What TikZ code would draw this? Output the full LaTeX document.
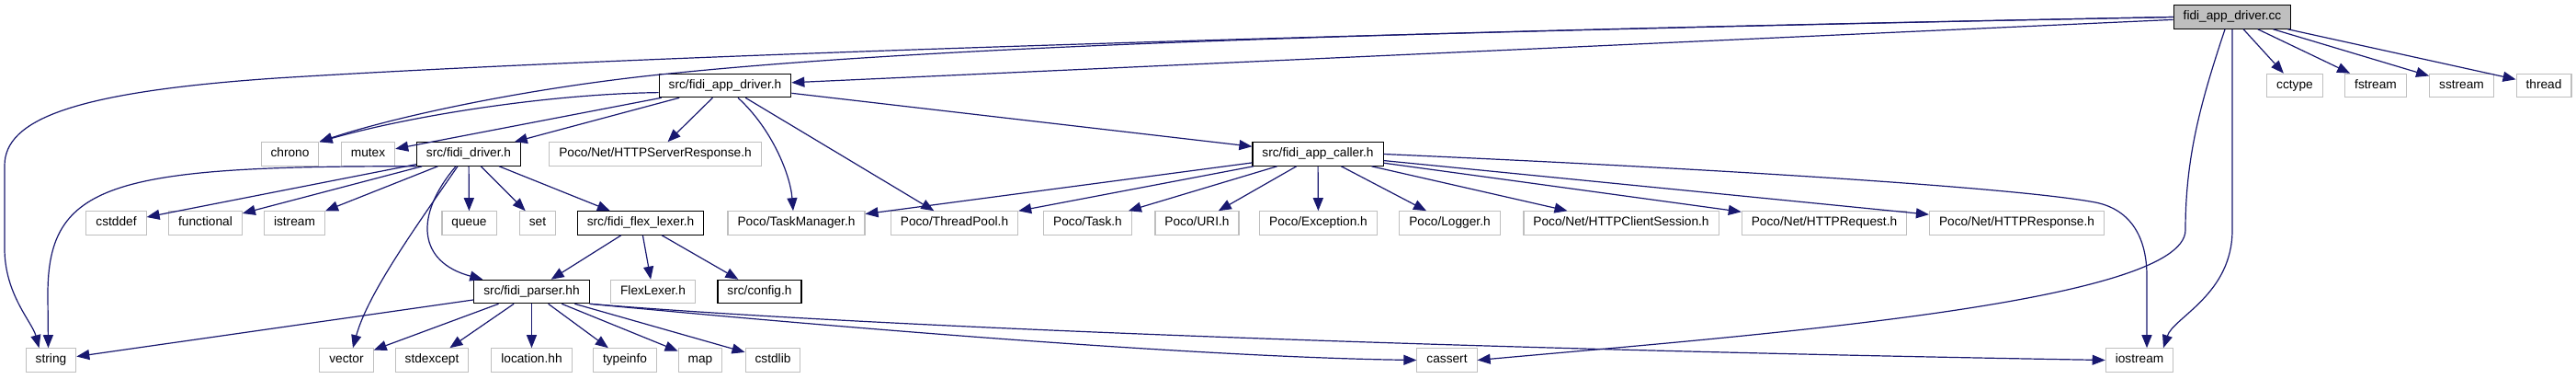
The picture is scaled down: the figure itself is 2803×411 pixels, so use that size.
\documentclass[tikz,border=0pt]{standalone}
\usepackage{fontspec}
\setmainfont{Liberation Sans}
\usetikzlibrary{arrows.meta,calc}
\definecolor{Edge}{HTML}{191970}
\definecolor{Frame}{HTML}{BFBFBF}
\definecolor{RootFill}{HTML}{BFBFBF}

\tikzset{
  hdr/.style={rectangle,minimum height=25.5bp,inner xsep=10.5bp,inner ysep=0pt,
    text height=9.7bp,text depth=2.9bp,line width=1.1bp,
    font=\fontsize{13.7bp}{16bp}\selectfont},
  sys/.style={hdr,draw=Frame},
  own/.style={hdr,draw=black},
  rootbox/.style={hdr,draw=black,fill=RootFill},
  dep/.style={draw=Edge,line width=1.2bp,-{Triangle[length=14bp,width=11bp]}}
}

\begin{document}
\begin{tikzpicture}[x=1bp,y=-1bp]
        \useasboundingbox (0,0) rectangle (2803,411);
        \fill[white] (0,0) rectangle (2803,411);
        \node[rootbox] (cc) at (2429,18.5) {fidi\_app\_driver.cc};
        \node[own] (appdrv) at (789,93) {src/fidi\_app\_driver.h};
        \node[sys] (cctype) at (2497,93) {cctype};
        \node[sys] (fstream) at (2585,93) {fstream};
        \node[sys] (sstream) at (2678.5,93) {sstream};
        \node[sys] (thread) at (2768,93) {thread};
        \node[sys] (chrono) at (315.5,167.5) {chrono};
        \node[sys] (mutex) at (400.5,167.5) {mutex};
        \node[own] (driver) at (510,167.5) {src/fidi\_driver.h};
        \node[sys] (srvresp) at (713,167.5) {Poco/Net/HTTPServerResponse.h};
        \node[own] (caller) at (1434,167.5) {src/fidi\_app\_caller.h};
        \node[sys] (cstddef) at (126.5,242.5) {cstddef};
        \node[sys] (functional) at (223.5,242.5) {functional};
        \node[sys] (istream) at (320.5,242.5) {istream};
        \node[sys] (queue) at (510.5,242.5) {queue};
        \node[sys] (set) at (585,242.5) {set};
        \node[own] (lexer) at (697,242.5) {src/fidi\_flex\_lexer.h};
        \node[sys] (taskmgr) at (866.5,242.5) {Poco/TaskManager.h};
        \node[sys] (threadpool) at (1038.5,242.5) {Poco/ThreadPool.h};
        \node[sys] (task) at (1183.5,242.5) {Poco/Task.h};
        \node[sys] (uri) at (1302.5,242.5) {Poco/URI.h};
        \node[sys] (exception) at (1434.5,242.5) {Poco/Exception.h};
        \node[sys] (logger) at (1577.5,242.5) {Poco/Logger.h};
        \node[sys] (clisess) at (1764,242.5) {Poco/Net/HTTPClientSession.h};
        \node[sys] (request) at (1985,242.5) {Poco/Net/HTTPRequest.h};
        \node[sys] (response) at (2194.5,242.5) {Poco/Net/HTTPResponse.h};
        \node[own] (parser) at (578.5,317) {src/fidi\_parser.hh};
        \node[sys] (flexlexer) at (710.5,317) {FlexLexer.h};
        \node[own] (config) at (826.5,317) {src/config.h};
        \node[sys] (string) at (55.5,391.5) {string};
        \node[sys] (vector) at (377,391.5) {vector};
        \node[sys] (stdexcept) at (470,391.5) {stdexcept};
        \node[sys] (location) at (578.5,391.5) {location.hh};
        \node[sys] (typeinfo) at (680,391.5) {typeinfo};
        \node[sys] (map) at (762,391.5) {map};
        \node[sys] (cstdlib) at (841,391.5) {cstdlib};
        \node[sys] (cassert) at (1574.5,391.5) {cassert};
        \node[sys] (iostream) at (2328,391.5) {iostream};

        \draw[dep] (cc.west) .. controls (1500,35) and (700,60) .. (300,85)
          .. controls (80,100) and (5,130) .. (5,180) -- (5,270)
          .. controls (5,320) and (35,350) .. ($(string.north)+(-13,0)$);
        \draw[dep] (cc.west) .. controls (1500,35) and (1000,50) .. (700,83)
          .. controls (550,100) and (420,130) .. (chrono.north east);
        \draw[dep] (cc) -- (appdrv);
        \draw[dep] ($(cc.south)+(-8,0)$) .. controls (2395,110) and (2378,170) .. (2378,250)
          .. controls (2378,330) and (1900,365) .. (cassert.east);
        \draw[dep] (cc.south) -- (2429,250)
          .. controls (2429,320) and (2365,345) .. ($(iostream.north)+(26,0)$);
        \draw[dep] (cc) -- (cctype);
        \draw[dep] (cc) -- (fstream);
        \draw[dep] (cc) -- (sstream);
        \draw[dep] (cc) -- (thread);

        \draw[dep] (appdrv.186) .. controls (600,102) and (450,125) .. (chrono.north east);
        \draw[dep] (appdrv) -- (mutex);
        \draw[dep] (appdrv) -- (driver);
        \draw[dep] (appdrv) -- (srvresp);
        \draw[dep] ($(appdrv.south)+(14,0)$) .. controls (840,140) and (860,190) .. ($(taskmgr.north)+(-3.5,0)$);
        \draw[dep] (appdrv) -- (threadpool);
        \draw[dep] (appdrv) -- (caller);

        \draw[dep] (driver.south west) .. controls (120,180) and (52,200) .. (52,320)
          -- ($(string.north)+(-3,0)$);
        \draw[dep] (driver) -- (cstddef);
        \draw[dep] (driver) -- (functional);
        \draw[dep] (driver) -- (istream);
        \draw[dep] ($(driver.south)+(-12,0)$) .. controls (450,250) and (400,320) .. ($(vector.north)+(7,0)$);
        \draw[dep] ($(driver.south)+(-14,0)$) .. controls (450,235) and (455,285) .. ($(parser.north west)+(10,0)$);
        \draw[dep] (driver) -- (queue);
        \draw[dep] (driver) -- (set);
        \draw[dep] (driver) -- (lexer);

        \draw[dep] (lexer) -- (parser);
        \draw[dep] (lexer) -- (flexlexer);
        \draw[dep] (lexer) -- (config);

        \draw[dep] (parser) -- (string);
        \draw[dep] (parser) -- (vector);
        \draw[dep] (parser) -- (stdexcept);
        \draw[dep] (parser) -- (location);
        \draw[dep] (parser) -- (typeinfo);
        \draw[dep] (parser) -- (map);
        \draw[dep] (parser) -- (cstdlib);
        \draw[dep] (parser.south east) .. controls (900,352) and (1500,378) .. (iostream.west);
        \draw[dep] (parser.south east) .. controls (900,355) and (1300,388) .. (cassert.west);

        \draw[dep] (caller) -- (taskmgr);
        \draw[dep] (caller) -- (threadpool);
        \draw[dep] (caller) -- (task);
        \draw[dep] (caller) -- (uri);
        \draw[dep] (caller) -- (exception);
        \draw[dep] (caller) -- (logger);
        \draw[dep] (caller) -- (clisess);
        \draw[dep] (caller) -- (request);
        \draw[dep] (caller) -- (response);
        \draw[dep] (caller.east) .. controls (1900,185) and (2200,205) .. (2280,220)
          .. controls (2320,228) and (2336,260) .. (2336,300) -- ($(iostream.north)+(8,0)$);
      \end{tikzpicture}
\end{document}
